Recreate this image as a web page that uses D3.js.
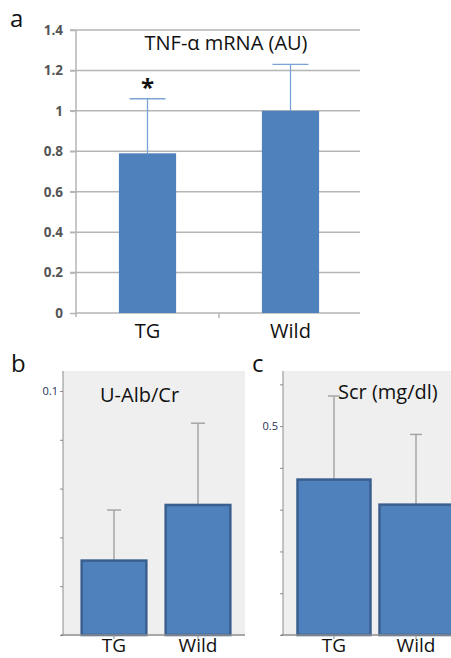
<!DOCTYPE html>
<html><head><meta charset="utf-8">
<script src="https://cdn.jsdelivr.net/npm/d3@7"></script>
<style>
html,body{margin:0;padding:0;background:#fff;overflow:hidden}
text{font-family:"Open Sans",sans-serif}
</style></head>
<body>
<svg id="chart" width="451" height="658"></svg>
<script>
// ---- data ----
const categories = ["TG", "Wild"];
// panel a: TNF-alpha mRNA (AU)
const aMeans = [0.79, 1.0];
const aUpper = [1.06, 1.23];
const aTicks = [0, 0.2, 0.4, 0.6, 0.8, 1, 1.2, 1.4];
// panel b: U-Alb/Cr
const bMeans = [0.0305, 0.0533];
const bUpper = [0.0512, 0.0868];
const bTicks = [0, 0.02, 0.04, 0.06, 0.08, 0.1];
const bLabeled = [0.1];
// panel c: Scr (mg/dl)
const cMeans = [0.372, 0.312];
const cUpper = [0.572, 0.48];
const cTicks = [0, 0.1, 0.2, 0.3, 0.4, 0.5, 0.6];
const cLabeled = [0.5];

const svg = d3.select("#chart");
const barFill = "#4f81bd";

// ================= Panel a =================
{
  const g = svg.append("g");
  const y = d3.scaleLinear().domain([0, 1.4]).range([313, 30]);
  const x = d3.scaleBand().domain(categories).range([76, 362]).padding(0);
  const bw = x.bandwidth() * 0.4;

  g.selectAll("line.grid").data(aTicks.filter(t => t > 0)).join("line")
    .attr("x1", 70).attr("x2", 360)
    .attr("y1", d => y(d)).attr("y2", d => y(d))
    .attr("stroke", "#b5b5b5").attr("stroke-width", 1.5);

  const ya = d3.axisLeft(y).tickValues(aTicks).tickSize(6).tickFormat(d3.format("~g"));
  g.append("g").attr("transform", "translate(76,0)").call(ya)
    .call(s => s.select(".domain").attr("stroke", "#b5b5b5").attr("stroke-width", 1.5).attr("d", "M0,30V317"))
    .call(s => s.selectAll(".tick line").attr("stroke", "#b5b5b5").attr("stroke-width", 1.5))
    .call(s => s.selectAll(".tick text").attr("fill", "#555").attr("font-size", 13.5).attr("font-weight", "bold")
      .attr("font-family", "'Open Sans',sans-serif").attr("x", -13));

  g.append("line").attr("x1", 76).attr("x2", 360).attr("y1", y(0)).attr("y2", y(0))
    .attr("stroke", "#b5b5b5").attr("stroke-width", 1.5);
  g.selectAll("line.xt").data([categories[1]]).join("line")
    .attr("x1", d => x(d)).attr("x2", d => x(d))
    .attr("y1", y(0)).attr("y2", y(0) + 5).attr("stroke", "#b5b5b5").attr("stroke-width", 1.5);

  g.selectAll("line.err").data(categories).join("line")
    .attr("x1", d => x(d) + x.bandwidth() / 2).attr("x2", d => x(d) + x.bandwidth() / 2)
    .attr("y1", (d, i) => y(aMeans[i])).attr("y2", (d, i) => y(aUpper[i]))
    .attr("stroke", "#7aa3d6").attr("stroke-width", 1.3);
  g.selectAll("line.cap").data(categories).join("line")
    .attr("x1", d => x(d) + x.bandwidth() / 2 - 18).attr("x2", d => x(d) + x.bandwidth() / 2 + 18)
    .attr("y1", (d, i) => y(aUpper[i])).attr("y2", (d, i) => y(aUpper[i]))
    .attr("stroke", "#7aa3d6").attr("stroke-width", 1.3);

  g.selectAll("rect.bar").data(categories).join("rect")
    .attr("x", d => x(d) + (x.bandwidth() - bw) / 2).attr("width", bw)
    .attr("y", (d, i) => y(aMeans[i])).attr("height", (d, i) => y(0) - y(aMeans[i]))
    .attr("fill", barFill);

  g.selectAll("text.xl").data(categories).join("text")
    .attr("x", d => x(d) + x.bandwidth() / 2).attr("y", 338)
    .attr("text-anchor", "middle").attr("font-size", 20).attr("fill", "#111").text(d => d);

  g.append("text").attr("x", 226).attr("y", 50).attr("text-anchor", "middle")
    .attr("font-size", 20).attr("fill", "#111").text("TNF-α mRNA (AU)");
  g.append("text").attr("x", x("TG") + x.bandwidth() / 2).attr("y", 96).attr("text-anchor", "middle")
    .attr("font-size", 24).attr("font-weight", "bold").attr("fill", "#111").text("*");
  g.append("text").attr("x", 10).attr("y", 27).attr("font-size", 24).attr("fill", "#111").text("a");
}

// ============ grey panels (b, c) ============
function greyPanel(opt) {
  const g = svg.append("g");
  const y = d3.scaleLinear().domain([0, opt.yMax]).range([635, opt.yMaxPx]);
  const x = d3.scaleBand().domain(categories).range(opt.xRange).padding(0);
  const bw = x.bandwidth() * opt.barFrac;

  g.append("rect").attr("x", opt.left).attr("y", 371).attr("width", opt.right - opt.left).attr("height", 635 - 371)
    .attr("fill", "#efefef");

  const ya = d3.axisLeft(y).tickValues(opt.ticks).tickSize(3)
    .tickFormat(d => opt.labeled.includes(d) ? d3.format("~g")(d) : "");
  g.append("g").attr("transform", `translate(${opt.left},0)`).call(ya)
    .call(s => s.select(".domain").attr("stroke", "#8c8c8c").attr("stroke-width", 1).attr("d", "M0,371V635"))
    .call(s => s.selectAll(".tick line").attr("stroke", "#8c8c8c"))
    .call(s => s.selectAll(".tick text").attr("fill", "#1f2f55").attr("font-size", 11)
      .attr("font-family", "'Open Sans',sans-serif").attr("x", -5));

  g.selectAll("line.err").data(categories).join("line")
    .attr("x1", d => x(d) + x.bandwidth() / 2).attr("x2", d => x(d) + x.bandwidth() / 2)
    .attr("y1", (d, i) => y(opt.means[i])).attr("y2", (d, i) => y(opt.upper[i]))
    .attr("stroke", "#a6a6a6").attr("stroke-width", 1.5);
  g.selectAll("line.cap").data(categories).join("line")
    .attr("x1", d => x(d) + x.bandwidth() / 2 - opt.cap).attr("x2", d => x(d) + x.bandwidth() / 2 + opt.cap)
    .attr("y1", (d, i) => y(opt.upper[i])).attr("y2", (d, i) => y(opt.upper[i]))
    .attr("stroke", "#a6a6a6").attr("stroke-width", 1.5);

  g.selectAll("rect.bar").data(categories).join("rect")
    .attr("x", d => x(d) + (x.bandwidth() - bw) / 2).attr("width", bw)
    .attr("y", (d, i) => y(opt.means[i])).attr("height", (d, i) => y(0) - y(opt.means[i]))
    .attr("fill", barFill).attr("stroke", "#3a5f8f").attr("stroke-width", 2.5);

  g.append("line").attr("x1", opt.left - 2).attr("x2", opt.right).attr("y1", 635).attr("y2", 635)
    .attr("stroke", "#8c8c8c").attr("stroke-width", 1.5);
  g.selectAll("line.xt").data(categories).join("line")
    .attr("x1", d => x(d) + x.bandwidth() / 2).attr("x2", d => x(d) + x.bandwidth() / 2)
    .attr("y1", 635).attr("y2", 639).attr("stroke", "#8c8c8c");
  g.selectAll("text.xl").data(categories).join("text")
    .attr("x", d => x(d) + x.bandwidth() / 2).attr("y", 652)
    .attr("text-anchor", "middle").attr("font-size", 19).attr("fill", "#111").text(d => d);

  g.append("text").attr("x", opt.titleX).attr("y", opt.titleY).attr("font-size", 20).attr("fill", "#111").text(opt.title);
  g.append("text").attr("x", opt.labelX).attr("y", 372).attr("font-size", 24).attr("fill", "#111").text(opt.label);
}

greyPanel({
  means: bMeans, upper: bUpper, ticks: bTicks, labeled: bLabeled,
  yMax: 0.1, yMaxPx: 391, xRange: [72, 240], barFrac: 0.77, cap: 7,
  left: 63, right: 245, title: "U-Alb/Cr", titleX: 100, titleY: 402, label: "b", labelX: 11
});
greyPanel({
  means: cMeans, upper: cUpper, ticks: cTicks, labeled: cLabeled,
  yMax: 0.6, yMaxPx: 384.3, xRange: [293, 457], barFrac: 0.89, cap: 6,
  left: 283, right: 460, title: "Scr (mg/dl)", titleX: 338, titleY: 399, label: "c", labelX: 252
});
</script>
</body></html>
